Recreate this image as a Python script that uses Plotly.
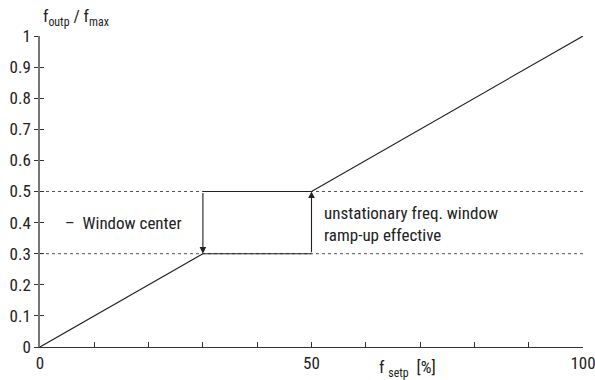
import plotly.graph_objects as go

# Characteristic: output frequency ratio vs. setpoint
setp_low = [0, 30]
outp_low = [0.0, 0.3]
setp_high = [50, 100]
outp_high = [0.5, 1.0]

# Unstationary window bounds
win_x = [30, 50]
win_lower = 0.3
win_upper = 0.5

x_ticks = [0, 10, 20, 30, 40, 50, 60, 70, 80, 90, 100]
x_tick_labels = ["0", "", "", "", "", "50", "", "", "", "", "100"]
y_ticks = [0, 0.1, 0.2, 0.3, 0.4, 0.5, 0.6, 0.7, 0.8, 0.9, 1]
y_tick_labels = ["0", "0.1", "0.2", "0.3", "0.4", "0.5", "0.6", "0.7", "0.8", "0.9", "1"]

FONT = "Liberation Sans Narrow, Roboto Condensed, Arial Narrow, Liberation Sans, sans-serif"
INK = "#222222"
FS = 17

fig = go.Figure()

# dotted reference levels across the full width
for lvl in (win_lower, win_upper):
    fig.add_trace(go.Scatter(x=[0, 100], y=[lvl, lvl], mode="lines",
                             line=dict(color="#555555", width=1, dash="dot"),
                             hoverinfo="skip", showlegend=False))

fig.add_trace(go.Scatter(x=setp_low, y=outp_low, mode="lines",
                         line=dict(color=INK, width=1.1), showlegend=False))
fig.add_trace(go.Scatter(x=setp_high, y=outp_high, mode="lines",
                         line=dict(color=INK, width=1.1), showlegend=False))
# window top and bottom edges
fig.add_trace(go.Scatter(x=win_x, y=[win_upper, win_upper], mode="lines",
                         line=dict(color=INK, width=1.1), showlegend=False))
fig.add_trace(go.Scatter(x=win_x, y=[win_lower, win_lower], mode="lines",
                         line=dict(color=INK, width=1.1), showlegend=False))

# vertical arrows: step down at window start, step up at window end
fig.add_annotation(x=win_x[0], y=win_lower, ax=win_x[0], ay=win_upper,
                   xref="x", yref="y", axref="x", ayref="y", text="",
                   showarrow=True, arrowhead=2, arrowsize=1.2, arrowwidth=1.1,
                   arrowcolor=INK)
fig.add_annotation(x=win_x[1], y=win_upper, ax=win_x[1], ay=win_lower,
                   xref="x", yref="y", axref="x", ayref="y", text="",
                   showarrow=True, arrowhead=2, arrowsize=1.2, arrowwidth=1.1,
                   arrowcolor=INK)

fig.add_annotation(x=4.2, y=0.4, xref="x", yref="y", xanchor="left", yanchor="middle",
                   text="–  Window center", showarrow=False,
                   font=dict(family=FONT, size=FS, color=INK))
fig.add_annotation(x=52, y=0.395, xref="x", yref="y", xanchor="left", yanchor="middle",
                   text="unstationary freq. window<br>ramp-up effective", align="left",
                   showarrow=False, font=dict(family=FONT, size=FS, color=INK))

# axis titles
fig.add_annotation(x=0, y=1.0, xref="paper", yref="paper", xanchor="left", yanchor="bottom",
                   xshift=1, yshift=5, text="f<sub>outp</sub> / f<sub>max</sub>", showarrow=False,
                   font=dict(family=FONT, size=FS, color=INK))
fig.add_annotation(x=62, y=0, xref="x", yref="paper", xanchor="left", yanchor="top",
                   yshift=-8, text="f <sub>setp</sub>  [%]", showarrow=False,
                   font=dict(family=FONT, size=FS, color=INK))

fig.update_layout(
    width=595, height=380,
    margin=dict(l=40, r=12, t=36, b=33),
    plot_bgcolor="white", paper_bgcolor="white",
    font=dict(family=FONT, size=FS, color=INK),
    xaxis=dict(range=[0, 100], tickvals=x_ticks, ticktext=x_tick_labels,
               showgrid=False, zeroline=False, showline=True, linecolor="#333333",
               linewidth=1.2, ticks="inside", ticklen=5, tickcolor="#333333",
               ticklabeloverflow="allow", automargin=False,
               tickfont=dict(family=FONT, size=FS, color=INK)),
    yaxis=dict(range=[0, 1], tickvals=y_ticks, ticktext=y_tick_labels,
               showgrid=False, zeroline=False, showline=True, linecolor="#777777",
               linewidth=1.5, ticks="outside", ticklen=4, tickcolor="#333333",
               automargin=False,
               tickfont=dict(family=FONT, size=FS, color=INK)),
    yaxis2=dict(range=[0, 1], tickvals=y_ticks, showticklabels=False,
                overlaying="y", side="left", showgrid=False, zeroline=False,
                showline=False, ticks="inside", ticklen=4, tickcolor="#333333",
                automargin=False),
)

# invisible trace to activate the overlaid tick axis
fig.add_trace(go.Scatter(x=[0], y=[0], yaxis="y2", mode="markers",
                         marker=dict(opacity=0), hoverinfo="skip", showlegend=False))

fig.write_html("out.html")
